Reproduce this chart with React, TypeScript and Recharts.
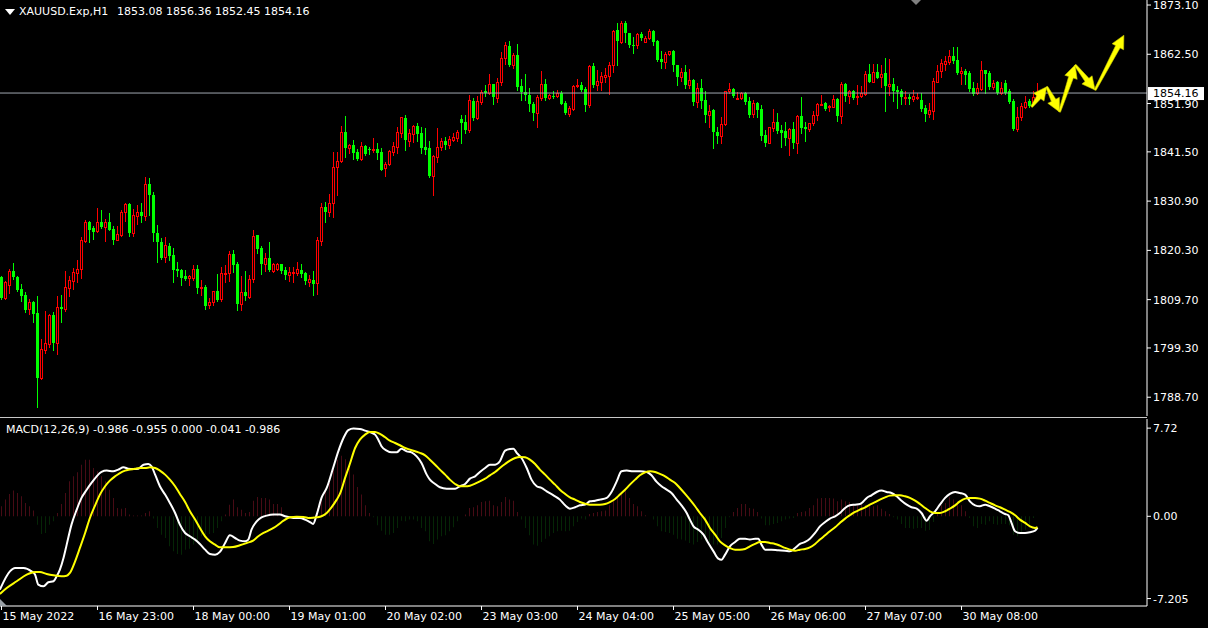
import React from 'react'
import { ComposedChart, Bar, Line, XAxis, YAxis, ReferenceLine, Cell } from 'recharts'

// XAUUSD H1 candles, one entry per bar (oldest first)
const opens = [
  1814.5, 1810.1, 1812.9, 1815.9, 1814.6, 1812.0, 1810.7, 1807.6, 1809.2, 1806.8, 1792.9, 1798.9, 1800.2, 1806.5, 1800.4, 1808.1, 1807.7, 1812.3, 1813.8, 1815.5,
  1816.2, 1822.3, 1826.4, 1825.1, 1824.4, 1826.3, 1825.4, 1826.3, 1824.9, 1822.6, 1823.7, 1828.5, 1830.3, 1824.0, 1827.8, 1828.6, 1827.6, 1834.6, 1832.2, 1824.0,
  1822.1, 1818.8, 1821.3, 1819.3, 1816.3, 1816.1, 1814.7, 1814.3, 1814.4, 1816.3, 1812.1, 1812.5, 1808.5, 1809.1, 1811.5, 1809.8, 1815.3, 1815.4, 1819.5, 1817.4,
  1808.8, 1811.3, 1810.3, 1814.1, 1823.6, 1820.9, 1817.4, 1818.7, 1815.9, 1816.3, 1817.3, 1816.1, 1814.9, 1815.4, 1815.5, 1816.1, 1815.4, 1813.4, 1813.9, 1813.2,
  1822.4, 1829.6, 1828.6, 1830.4, 1838.2, 1839.5, 1845.7, 1842.4, 1843.0, 1841.5, 1839.9, 1842.8, 1842.2, 1842.0, 1842.1, 1841.5, 1838.1, 1838.8, 1841.5, 1842.6,
  1845.6, 1848.8, 1843.9, 1845.3, 1847.1, 1845.5, 1842.6, 1842.3, 1836.2, 1840.5, 1842.5, 1843.8, 1843.0, 1844.1, 1844.4, 1848.6, 1848.0, 1846.2, 1852.5, 1848.7,
  1852.3, 1854.5, 1854.1, 1856.1, 1853.0, 1856.5, 1861.6, 1864.3, 1860.2, 1862.3, 1855.7, 1854.4, 1853.7, 1851.9, 1849.9, 1853.0, 1856.2, 1853.0, 1853.5, 1853.5,
  1854.1, 1852.1, 1849.6, 1850.7, 1855.7, 1855.9, 1855.0, 1851.5, 1860.0, 1855.9, 1856.6, 1857.7, 1857.9, 1860.1, 1867.7, 1865.2, 1869.2, 1867.0, 1864.5, 1864.5,
  1866.8, 1865.2, 1865.9, 1867.5, 1865.4, 1861.4, 1860.9, 1862.5, 1863.2, 1860.2, 1857.7, 1858.6, 1855.9, 1857.0, 1852.2, 1855.2, 1852.7, 1849.4, 1850.5, 1845.7,
  1845.0, 1847.6, 1854.5, 1855.0, 1853.0, 1853.0, 1854.1, 1852.5, 1849.6, 1852.1, 1850.7, 1845.1, 1843.5, 1846.7, 1847.9, 1846.1, 1845.9, 1844.4, 1846.4, 1843.3,
  1849.2, 1846.8, 1846.4, 1847.7, 1849.4, 1851.7, 1852.1, 1851.1, 1851.2, 1852.8, 1849.2, 1856.1, 1853.5, 1854.6, 1853.2, 1853.5, 1853.9, 1858.3, 1856.6, 1858.6,
  1857.7, 1858.5, 1855.7, 1856.0, 1854.8, 1854.6, 1853.2, 1853.4, 1852.9, 1853.2, 1852.7, 1851.0, 1849.7, 1850.4, 1856.6, 1858.8, 1860.4, 1860.9, 1862.1, 1861.3,
  1858.4, 1859.0, 1858.4, 1855.3, 1854.1, 1855.0, 1859.1, 1858.5, 1855.4, 1856.6, 1854.1, 1856.4, 1854.5, 1852.5, 1846.4, 1849.0, 1851.2, 1852.5, 1852.2, 1853.08,
]
const highs = [
  1814.8, 1813.7, 1816.4, 1817.6, 1814.7, 1813.0, 1811.4, 1809.8, 1809.3, 1810.4, 1801.2, 1807.3, 1806.6, 1807.1, 1810.5, 1810.7, 1815.9, 1814.7, 1816.6, 1818.2,
  1823.2, 1826.9, 1826.6, 1825.6, 1829.4, 1829.0, 1827.1, 1828.4, 1825.6, 1825.6, 1829.0, 1830.4, 1830.4, 1829.1, 1830.0, 1830.5, 1836.1, 1835.8, 1832.9, 1825.8,
  1822.9, 1823.1, 1821.8, 1820.8, 1817.7, 1816.4, 1816.0, 1815.0, 1817.2, 1817.2, 1813.9, 1812.9, 1810.0, 1811.6, 1815.2, 1816.7, 1817.2, 1820.2, 1820.4, 1817.7,
  1814.7, 1815.9, 1815.0, 1824.7, 1823.7, 1821.3, 1819.7, 1822.1, 1817.5, 1817.6, 1817.4, 1816.8, 1816.8, 1816.7, 1817.8, 1817.4, 1815.6, 1815.0, 1815.9, 1823.1,
  1830.5, 1830.7, 1832.4, 1841.5, 1841.5, 1847.1, 1849.2, 1843.2, 1844.0, 1842.1, 1843.7, 1843.0, 1842.5, 1844.4, 1843.4, 1842.3, 1839.4, 1841.8, 1843.6, 1846.8,
  1849.1, 1849.4, 1846.4, 1847.3, 1847.8, 1846.8, 1846.6, 1843.8, 1840.9, 1846.6, 1844.5, 1844.6, 1845.0, 1845.5, 1846.2, 1849.4, 1849.4, 1853.7, 1853.0, 1853.5,
  1854.9, 1855.9, 1858.3, 1856.2, 1857.3, 1863.0, 1865.2, 1865.4, 1862.7, 1864.7, 1857.1, 1858.3, 1855.2, 1852.3, 1853.7, 1858.8, 1857.1, 1853.9, 1854.6, 1854.9,
  1854.5, 1852.4, 1851.4, 1855.9, 1857.1, 1856.6, 1855.5, 1860.2, 1860.7, 1859.1, 1858.6, 1859.6, 1860.9, 1867.7, 1869.2, 1869.7, 1869.7, 1867.1, 1866.3, 1867.0,
  1867.4, 1866.4, 1867.9, 1867.7, 1865.6, 1863.2, 1862.9, 1863.3, 1863.4, 1860.3, 1859.5, 1860.2, 1859.3, 1857.1, 1856.3, 1857.2, 1854.5, 1851.5, 1850.7, 1846.9,
  1849.1, 1854.6, 1856.3, 1855.2, 1854.3, 1854.3, 1854.3, 1853.2, 1852.7, 1852.3, 1851.6, 1846.2, 1846.9, 1850.7, 1849.8, 1847.3, 1848.0, 1846.6, 1848.0, 1849.4,
  1853.2, 1848.0, 1847.8, 1850.2, 1852.1, 1853.7, 1852.3, 1851.5, 1853.7, 1853.0, 1856.5, 1856.3, 1854.9, 1854.9, 1855.9, 1855.7, 1858.8, 1860.4, 1860.4, 1860.4,
  1860.2, 1861.8, 1861.5, 1857.5, 1855.7, 1855.0, 1854.5, 1853.9, 1854.8, 1854.2, 1854.1, 1851.6, 1852.0, 1857.5, 1860.3, 1861.4, 1862.1, 1863.4, 1864.0, 1864.0,
  1859.8, 1859.3, 1858.9, 1856.6, 1856.3, 1861.0, 1859.2, 1858.9, 1857.0, 1856.7, 1856.6, 1857.0, 1855.0, 1852.8, 1851.2, 1852.1, 1853.5, 1852.8, 1854.5, 1856.36,
]
const lows = [
  1809.8, 1809.8, 1811.2, 1814.2, 1811.6, 1809.4, 1807.1, 1806.6, 1804.8, 1786.7, 1792.6, 1798.3, 1799.5, 1798.9, 1798.0, 1804.8, 1807.3, 1810.4, 1811.9, 1813.5,
  1814.4, 1822.2, 1822.2, 1822.8, 1824.3, 1825.1, 1822.4, 1824.6, 1821.7, 1822.5, 1823.4, 1826.7, 1823.3, 1823.5, 1825.9, 1826.5, 1826.9, 1827.9, 1822.4, 1817.9,
  1818.4, 1817.9, 1818.2, 1813.6, 1814.8, 1812.9, 1813.9, 1812.9, 1813.9, 1811.1, 1810.7, 1807.6, 1808.0, 1808.6, 1809.5, 1809.5, 1813.6, 1813.8, 1815.7, 1807.5,
  1807.4, 1809.6, 1810.0, 1813.4, 1819.7, 1815.2, 1815.9, 1815.9, 1815.7, 1816.1, 1815.4, 1814.2, 1813.8, 1813.6, 1815.0, 1814.5, 1813.1, 1812.7, 1810.7, 1810.9,
  1821.4, 1826.3, 1827.8, 1827.4, 1832.3, 1839.3, 1840.3, 1841.3, 1840.0, 1839.7, 1839.8, 1840.8, 1841.0, 1841.5, 1839.9, 1837.6, 1836.4, 1838.7, 1840.9, 1841.3,
  1844.6, 1841.8, 1842.8, 1843.7, 1843.9, 1841.2, 1841.0, 1836.0, 1832.2, 1839.4, 1841.8, 1842.2, 1842.4, 1843.9, 1843.9, 1843.5, 1845.5, 1845.7, 1848.4, 1848.5,
  1851.9, 1853.6, 1854.0, 1851.8, 1852.3, 1855.9, 1860.5, 1860.0, 1859.6, 1854.9, 1852.7, 1852.7, 1850.3, 1848.4, 1846.9, 1852.7, 1852.7, 1852.9, 1853.0, 1853.4,
  1851.7, 1849.6, 1849.2, 1850.5, 1855.5, 1854.5, 1850.3, 1851.2, 1855.5, 1854.8, 1854.8, 1856.6, 1854.0, 1858.6, 1860.2, 1864.9, 1865.2, 1864.0, 1862.7, 1863.8,
  1865.6, 1865.1, 1865.8, 1864.6, 1861.1, 1859.6, 1859.6, 1862.3, 1858.8, 1855.8, 1856.8, 1855.2, 1855.2, 1851.5, 1851.2, 1851.0, 1847.9, 1846.9, 1842.3, 1843.4,
  1843.4, 1847.3, 1854.1, 1853.4, 1852.8, 1852.8, 1851.9, 1848.9, 1849.1, 1848.9, 1844.1, 1842.8, 1843.3, 1845.9, 1845.6, 1842.6, 1843.0, 1840.8, 1842.3, 1841.2,
  1845.5, 1843.9, 1845.9, 1847.3, 1848.4, 1851.6, 1850.5, 1850.2, 1851.1, 1848.2, 1847.8, 1852.5, 1852.1, 1852.8, 1851.9, 1853.4, 1853.7, 1856.5, 1856.5, 1857.3,
  1855.5, 1850.4, 1853.7, 1852.5, 1850.9, 1851.9, 1851.9, 1851.8, 1852.5, 1852.8, 1850.4, 1848.2, 1848.9, 1848.6, 1856.5, 1857.7, 1859.1, 1860.4, 1860.7, 1858.3,
  1856.1, 1856.2, 1854.5, 1853.7, 1854.0, 1854.8, 1854.1, 1855.0, 1855.0, 1854.0, 1854.0, 1854.0, 1852.1, 1846.1, 1845.9, 1848.4, 1850.9, 1851.2, 1851.6, 1852.45,
]
const closes = [
  1810.0, 1813.4, 1815.9, 1814.5, 1811.8, 1810.5, 1807.5, 1809.2, 1806.6, 1792.9, 1799.0, 1800.4, 1806.4, 1800.4, 1808.1, 1807.7, 1812.4, 1813.9, 1815.7, 1816.3,
  1822.5, 1826.4, 1824.7, 1824.3, 1826.3, 1825.3, 1826.3, 1824.7, 1822.6, 1823.8, 1828.5, 1830.3, 1824.1, 1827.9, 1828.6, 1827.6, 1834.6, 1832.2, 1824.0, 1822.0,
  1818.6, 1821.4, 1819.1, 1816.1, 1815.9, 1814.4, 1814.2, 1814.7, 1816.3, 1812.1, 1812.5, 1808.4, 1809.2, 1811.5, 1809.6, 1815.4, 1815.5, 1819.5, 1817.2, 1808.8,
  1811.3, 1810.4, 1814.2, 1823.4, 1820.6, 1817.4, 1818.7, 1816.1, 1817.3, 1817.3, 1815.9, 1815.0, 1815.7, 1815.7, 1816.2, 1815.2, 1813.7, 1814.1, 1813.1, 1822.5,
  1829.6, 1828.6, 1830.6, 1838.2, 1839.5, 1845.7, 1842.4, 1843.0, 1841.3, 1839.9, 1842.7, 1841.0, 1841.9, 1842.2, 1841.3, 1837.7, 1838.9, 1841.7, 1842.8, 1845.8,
  1848.9, 1844.1, 1845.5, 1847.1, 1845.3, 1842.3, 1842.0, 1836.2, 1840.6, 1842.5, 1843.8, 1843.0, 1844.3, 1844.8, 1845.8, 1847.8, 1846.2, 1852.7, 1848.7, 1852.4,
  1854.3, 1854.1, 1856.1, 1853.2, 1856.5, 1861.6, 1864.5, 1860.2, 1862.3, 1855.5, 1854.3, 1853.7, 1851.8, 1849.9, 1853.4, 1856.0, 1853.0, 1853.7, 1853.2, 1854.1,
  1851.8, 1849.8, 1850.9, 1855.7, 1855.9, 1854.8, 1851.5, 1860.0, 1855.9, 1856.8, 1857.8, 1858.0, 1860.2, 1867.5, 1865.4, 1869.2, 1867.0, 1864.4, 1864.3, 1866.8,
  1865.9, 1866.1, 1867.5, 1865.1, 1861.3, 1860.8, 1862.5, 1863.2, 1860.1, 1857.7, 1858.6, 1855.8, 1857.0, 1852.2, 1855.2, 1852.5, 1849.4, 1850.4, 1845.7, 1845.0,
  1847.6, 1854.5, 1855.0, 1853.6, 1853.1, 1854.1, 1852.3, 1849.4, 1852.1, 1850.5, 1844.9, 1843.5, 1846.8, 1847.9, 1845.9, 1845.6, 1844.4, 1846.4, 1843.3, 1849.2,
  1846.6, 1846.4, 1847.7, 1849.4, 1851.9, 1851.9, 1850.7, 1851.4, 1852.8, 1849.2, 1856.1, 1853.5, 1854.6, 1853.0, 1853.5, 1854.2, 1858.3, 1856.6, 1858.6, 1857.5,
  1858.3, 1855.7, 1856.2, 1854.7, 1854.3, 1853.2, 1853.4, 1852.9, 1853.5, 1853.4, 1850.7, 1849.7, 1850.5, 1856.7, 1858.9, 1860.7, 1861.1, 1862.1, 1861.0, 1858.4,
  1858.9, 1858.0, 1855.0, 1854.0, 1855.3, 1859.1, 1858.3, 1855.4, 1856.4, 1854.1, 1855.3, 1854.2, 1852.3, 1846.4, 1849.0, 1851.4, 1852.3, 1851.4, 1853.2, 1854.16,
]

// MACD histogram, one value per bar
const histogram = [
  0.88, 1.46, 1.96, 2.25, 2.04, 1.75, 1.17, 0.88, 0.5, -0.73, -1.55, -1.46, -0.73, -0.44, 0.29, 1.08, 2.04, 3.06, 3.5, 3.85,
  4.52, 4.96, 4.96, 4.23, 3.94, 3.5, 3.06, 2.33, 1.61, 0.73, 0.67, 0.73, 0.15, 0.06, 0.06, 0.06, 0.29, 0.44, -0.2, -1.02,
  -1.61, -1.9, -2.63, -3.07, -3.3, -3.36, -2.92, -2.84, -2.48, -2.19, -1.75, -1.61, -1.55, -1.46, -1.02, -0.44, 0.15, 1.02, 1.46, 0.79,
  0.58, 0.29, 0.38, 1.37, 1.69, 1.61, 1.61, 1.46, 1.08, 1.08, 0.79, -0.15, -0.2, -0.15, -0.15, -0.09, -0.15, -0.2, -0.15, 0.73,
  1.61, 2.33, 2.92, 4.09, 4.96, 5.3, 5.0, 4.4, 3.65, 2.57, 1.9, 0.96, 0.29, -0.09, -0.79, -1.26, -1.61, -1.61, -1.46, -1.02,
  -0.38, -0.44, -0.29, -0.29, -0.44, -1.02, -1.31, -2.19, -2.42, -2.04, -1.75, -1.66, -1.31, -0.96, -0.44, 0.0, 0.15, 0.73, 0.79, 0.96,
  1.25, 1.31, 1.37, 0.96, 0.88, 1.25, 1.69, 1.46, 1.37, 0.38, -0.29, -1.02, -1.66, -2.48, -2.57, -2.25, -1.96, -1.75, -1.46, -1.31,
  -1.26, -1.31, -1.26, -0.88, -0.5, -0.2, -0.29, 0.2, 0.29, 0.38, 0.44, 0.5, 0.96, 1.37, 1.75, 1.96, 2.19, 1.61, 1.08, 0.88,
  0.44, 0.09, 0.0, -0.29, -0.88, -1.31, -1.37, -1.46, -1.61, -1.96, -2.04, -2.13, -2.34, -2.48, -2.25, -2.0, -2.19, -2.25, -2.48, -2.48,
  -1.9, -1.02, -0.09, 0.38, 0.73, 1.08, 1.08, 0.73, 0.67, 0.38, -0.2, -0.79, -0.79, -0.67, -0.58, -0.44, -0.29, -0.2, -0.15, 0.29,
  0.38, 0.44, 0.73, 0.96, 1.55, 1.61, 1.61, 1.61, 1.55, 1.31, 1.46, 1.31, 1.25, 1.02, 0.96, 1.17, 0.96, 0.96, 0.88, 0.96,
  0.67, 0.44, 0.2, -0.09, -0.29, -0.67, -1.02, -1.02, -1.08, -1.02, -1.02, -1.26, -1.2, -0.5, 0.2, 0.96, 1.17, 1.66, 1.46, 1.31,
  0.96, 0.44, -0.15, -0.88, -1.02, -0.67, -0.73, -0.44, -0.67, -0.73, -0.67, -0.67, -0.79, -1.61, -1.75, -1.46, -1.17, -0.73, -0.15, 0.0,
]

// white MACD line, sampled at bar positions
const macdBars = [
  -0.4, 2.1, 3.4, 5.5, 7.5, 8.4, 9.2, 10.5, 11.7, 13.0, 13.8, 14.6, 15.5, 16.3, 17.5, 18.8, 20.0, 21.3, 22.5, 23.8,
  25.0, 26.3, 27.9, 29.2, 30.5, 31.7, 33.0, 34.2, 35.5, 36.7, 37.5, 38.4, 39.6, 40.9, 42.1, 43.4, 44.6, 45.9, 47.1, 48.4,
  49.6, 50.9, 52.1, 53.4, 54.6, 55.9, 57.1, 58.4, 59.6, 60.9, 61.7, 62.5, 63.8, 65.0, 66.3, 68.0, 69.6, 70.9, 72.1, 73.4,
  74.6, 75.9, 77.1, 77.9, 78.8, 80.0, 81.3, 82.9, 84.2, 85.5, 86.7, 88.0, 89.6, 90.9, 92.1, 93.4, 94.2, 95.0, 96.3, 97.5,
  98.8, 100.0, 101.3, 102.5, 103.8, 105.0, 106.3, 107.1, 108.4, 109.6, 111.3, 113.4, 114.6, 115.9, 117.1, 118.4, 119.6, 120.9, 122.1, 123.4,
  124.6, 125.9, 127.1, 128.0, 128.8, 130.0, 131.3, 132.5, 133.8, 135.0, 136.3, 138.0, 139.6, 140.9, 142.1, 143.4, 144.6, 145.9, 147.1, 148.4,
  149.6, 151.3, 152.5, 153.8, 155.0, 156.3, 157.9, 159.6, 161.3, 162.5, 163.8, 165.0, 166.3, 167.5, 168.8, 170.0, 171.3, 172.1, 173.0, 174.2,
  175.5, 176.7, 178.0, 179.2, 180.0, 180.9, 182.1, 183.4, 184.6, 185.9, 187.1, 188.4, 189.2, 190.0, 190.9, 192.5, 194.2, 195.9, 197.1, 198.4,
  199.6, 200.9, 202.1, 203.4, 204.6, 205.9, 207.1, 208.4, 209.6, 210.9, 212.1, 213.4, 214.6, 215.5, 216.3, 217.5, 218.8, 220.0, 221.3, 222.5,
  223.8, 225.0, 226.3, 227.5, 228.8, 230.0, 231.3, 232.1, 233.4, 234.6, 235.9, 237.1, 238.4, 239.6, 240.9, 242.1, 243.4, 244.6, 245.9, 247.1,
  248.4, 249.6, 250.9, 251.7, 252.5, 253.4, 254.6, 255.9, 257.1, 258.4, 259.0,
]
const macdValues = [
  -6.42, -4.82, -4.52, -4.52, -4.82, -5.11, -5.98, -6.13, -5.78, -5.69, -5.25, -4.67, -3.65, -2.48, -0.73, 0.58, 1.61, 2.33, 2.92, 3.5,
  3.88, 4.0, 3.94, 4.09, 4.29, 4.17, 4.14, 4.17, 4.52, 4.58, 4.38, 3.65, 2.63, 1.9, 1.17, 0.29, -0.73, -1.46, -1.75, -2.04,
  -2.42, -2.92, -3.3, -3.36, -3.12, -2.34, -1.66, -1.9, -2.13, -2.19, -2.04, -1.17, -0.44, -0.09, 0.06, 0.15, 0.15, 0.0, -0.09, -0.15,
  -0.15, -0.29, -0.5, -0.67, 0.15, 1.61, 2.48, 4.23, 5.69, 6.86, 7.55, 7.68, 7.65, 7.5, 7.38, 7.15, 6.71, 6.13, 5.75, 5.6,
  5.6, 5.92, 5.69, 5.6, 5.25, 4.67, 3.65, 3.21, 2.83, 2.54, 2.42, 2.42, 2.63, 2.83, 3.3, 3.5, 3.88, 4.23, 4.52, 4.52,
  4.82, 5.75, 5.9, 5.92, 5.55, 5.11, 4.23, 3.21, 2.63, 2.48, 2.19, 1.84, 1.46, 0.96, 0.67, 0.79, 0.96, 1.02, 1.31, 1.37,
  1.46, 1.61, 2.13, 3.06, 3.94, 4.0, 3.94, 3.94, 3.88, 3.59, 3.01, 2.63, 2.33, 2.04, 1.46, 0.96, 0.29, -0.29, -0.88, -1.17,
  -1.61, -2.34, -3.07, -3.71, -3.8, -3.36, -2.63, -2.25, -1.96, -1.96, -2.04, -1.96, -1.96, -2.48, -2.92, -2.92, -2.98, -3.01, -3.07, -2.77,
  -2.42, -2.25, -1.96, -1.46, -0.88, -0.5, -0.2, 0.0, 0.29, 0.73, 0.96, 1.02, 1.08, 1.31, 1.61, 1.84, 2.13, 2.25, 2.13, 2.04,
  1.75, 1.37, 1.02, 0.79, 0.67, 0.29, -0.38, 0.0, 0.44, 1.02, 1.61, 1.96, 2.13, 2.04, 1.9, 1.31, 0.96, 0.88, 1.02, 0.88,
  0.67, 0.44, 0.2, 0.09, -0.58, -1.31, -1.46, -1.46, -1.4, -1.26, -0.99,
]

// yellow signal line
const signalBars = [
  -0.4, 1.3, 3.8, 6.3, 8.4, 9.6, 11.3, 13.0, 15.0, 16.3, 17.1, 18.4, 19.6, 20.9, 22.1, 23.4, 24.6, 25.9, 27.1, 28.4,
  29.6, 30.9, 32.1, 33.4, 34.6, 35.9, 37.1, 38.4, 39.6, 40.9, 42.1, 43.4, 44.6, 45.9, 47.1, 48.4, 49.6, 50.9, 52.1, 53.4,
  54.6, 56.3, 57.9, 59.6, 61.3, 62.9, 64.2, 65.5, 66.7, 68.0, 69.2, 70.5, 72.1, 73.8, 75.5, 77.1, 78.8, 80.0, 81.3, 82.5,
  83.8, 84.6, 85.9, 87.1, 88.4, 89.6, 90.9, 92.1, 93.4, 94.6, 95.9, 97.1, 98.4, 99.6, 100.9, 102.1, 103.4, 104.6, 105.9, 107.1,
  108.4, 109.6, 110.9, 112.1, 113.4, 114.6, 115.9, 117.1, 118.4, 119.6, 120.9, 122.1, 123.4, 124.6, 125.9, 127.1, 128.4, 129.6, 130.9, 132.1,
  133.4, 134.6, 135.9, 137.1, 138.4, 139.6, 140.9, 142.1, 143.4, 144.6, 145.9, 147.1, 148.4, 149.6, 150.9, 152.1, 153.4, 154.6, 155.9, 157.1,
  158.4, 159.6, 160.9, 162.1, 163.4, 164.6, 165.9, 167.1, 168.4, 169.6, 170.9, 172.1, 173.4, 174.6, 175.9, 177.1, 178.4, 179.6, 180.9, 182.1,
  183.4, 184.6, 185.9, 187.1, 188.4, 189.6, 190.9, 192.1, 193.4, 194.6, 195.9, 197.1, 198.4, 199.6, 200.9, 202.1, 203.4, 204.6, 205.9, 207.1,
  208.4, 209.6, 210.9, 212.1, 213.4, 214.6, 215.9, 217.1, 218.4, 219.6, 220.9, 222.1, 223.4, 224.6, 225.9, 227.1, 228.4, 229.6, 230.9, 232.1,
  233.4, 234.6, 235.9, 237.1, 238.4, 239.6, 240.9, 242.1, 243.4, 244.6, 245.9, 247.1, 248.4, 249.6, 250.9, 252.1, 253.4, 254.6, 255.9, 257.1,
  258.4, 259.0,
]
const signalValues = [
  -6.8, -6.28, -5.69, -5.11, -4.88, -4.88, -5.05, -5.17, -5.26, -5.2, -4.96, -3.94, -2.77, -1.46, -0.15, 0.96, 1.9, 2.63, 3.12, 3.5,
  3.79, 4.0, 4.09, 4.17, 4.23, 4.23, 4.29, 4.23, 4.0, 3.65, 3.21, 2.63, 1.96, 1.25, 0.44, -0.29, -1.02, -1.75, -2.19, -2.48,
  -2.72, -2.72, -2.69, -2.54, -2.34, -2.13, -1.75, -1.46, -1.26, -1.02, -0.73, -0.38, -0.09, -0.03, -0.06, -0.15, -0.09, 0.0, 0.29, 0.79,
  1.46, 1.96, 3.36, 4.6, 5.98, 6.71, 7.15, 7.38, 7.38, 7.21, 6.92, 6.62, 6.42, 6.22, 5.98, 5.84, 5.69, 5.55, 5.34, 4.96,
  4.52, 4.09, 3.65, 3.21, 2.83, 2.63, 2.63, 2.68, 2.86, 3.06, 3.3, 3.59, 3.88, 4.23, 4.58, 4.87, 5.11, 5.2, 5.17, 4.96,
  4.58, 4.09, 3.65, 3.21, 2.77, 2.33, 1.96, 1.66, 1.46, 1.25, 1.11, 1.02, 1.02, 1.02, 1.08, 1.25, 1.52, 1.9, 2.33, 2.77,
  3.21, 3.59, 3.85, 3.94, 3.88, 3.71, 3.5, 3.21, 2.92, 2.48, 1.96, 1.46, 0.88, 0.29, -0.29, -1.02, -1.61, -2.19, -2.54, -2.77,
  -2.92, -2.92, -2.86, -2.63, -2.42, -2.25, -2.25, -2.34, -2.42, -2.57, -2.77, -2.92, -3.01, -2.92, -2.86, -2.72, -2.42, -2.04, -1.66, -1.31,
  -0.96, -0.58, -0.2, 0.09, 0.38, 0.58, 0.79, 1.02, 1.25, 1.46, 1.66, 1.81, 1.84, 1.84, 1.75, 1.61, 1.37, 1.08, 0.73, 0.44,
  0.29, 0.29, 0.44, 0.67, 0.96, 1.31, 1.55, 1.61, 1.61, 1.55, 1.37, 1.17, 0.96, 0.79, 0.58, 0.38, 0.09, -0.29, -0.58, -0.88,
  -1.02, -0.96,
]

const priceTicks = [1873.1, 1862.5, 1851.9, 1841.5, 1830.9, 1820.3, 1809.7, 1799.3, 1788.7]
const macdTicks = [7.72, 0, -7.205]
const macdTickLabels = ['7.72', '0.00', '-7.205']
const timeTickBars = [0, 24, 48, 72, 96, 120, 144, 168, 192, 216, 240]
const timeLabels = [
  '15 May 2022', '16 May 23:00', '18 May 00:00', '19 May 01:00', '20 May 02:00', '23 May 03:00',
  '24 May 04:00', '25 May 05:00', '26 May 06:00', '27 May 07:00', '30 May 08:00',
]

// hand drawn forecast arrows (bar position, price)
const arrowBars = [257.5, 261.3, 264.5, 268.4, 273.4, 280.6]
const arrowPrices = [1851.2, 1855.5, 1850.1, 1860.2, 1854.8, 1866.6]

const FONT = '"DejaVu Sans", Verdana, sans-serif'
const xDomain: [number, number] = [-0.375, 286.375]

const candles = opens.map((o, i) => ({ x: i, o, h: highs[i], l: lows[i], c: closes[i] }))
const histData = histogram.map((v, i) => ({ x: i, v }))
const macdLine = macdBars.map((b, i) => ({ x: b, v: macdValues[i] }))
const signalLine = signalBars.map((b, i) => ({ x: b, v: signalValues[i] }))
const lastPrice = closes[closes.length - 1]

const Candle = (props: any) => {
  const { x, y, width, height, payload } = props
  if (!payload || height == null) return null
  const { o, h, l, c } = payload
  const cx = Math.floor(x + width / 2) + 0.5
  const k = Math.abs(height) / (h - l)
  const top = Math.min(y, y + height)
  const yO = top + (h - o) * k
  const yC = top + (h - c) * k
  const rH = Math.round(top)
  const rL = Math.round(top + Math.abs(height))
  const bTop = Math.round(Math.min(yO, yC))
  const bBot = Math.round(Math.max(yO, yC))
  if (c >= o) {
    const col = '#ff0000'
    return (
      <g>
        <line x1={cx} x2={cx} y1={rH} y2={bTop} stroke={col} strokeWidth={1} />
        <line x1={cx} x2={cx} y1={bBot} y2={rL + 1} stroke={col} strokeWidth={1} />
        {bBot - bTop >= 2 ? (
          <rect x={cx - 1} y={bTop + 0.5} width={2} height={bBot - bTop} fill="none" stroke={col} strokeWidth={1} />
        ) : (
          <rect x={cx - 1.5} y={bTop} width={3} height={Math.max(bBot - bTop, 1) + 1} fill={col} />
        )}
      </g>
    )
  }
  const col = '#00ff00'
  return (
    <g>
      <line x1={cx} x2={cx} y1={rH} y2={rL + 1} stroke={col} strokeWidth={1} />
      <rect x={cx - 1.5} y={bTop} width={3} height={Math.max(bBot - bTop, 1)} fill={col} />
    </g>
  )
}

const PriceTick = (props: any) => {
  const { x, y, payload } = props
  return (
    <text x={x} y={y} dy={4} fill="#fff" fontSize={11} fontFamily={FONT} textAnchor="start">
      {Number(payload.value).toFixed(2)}
    </text>
  )
}

const MacdTick = (props: any) => {
  const { x, y, payload } = props
  const idx = macdTicks.indexOf(payload.value)
  return (
    <text x={x} y={y} dy={4} fill="#fff" fontSize={11} fontFamily={FONT} textAnchor="start">
      {idx >= 0 ? macdTickLabels[idx] : payload.value}
    </text>
  )
}

const TimeTick = (props: any) => {
  const { x, y, payload } = props
  const idx = timeTickBars.indexOf(payload.value)
  return (
    <text x={x + 1} y={y} dy={10} fill="#fff" fontSize={11} fontFamily={FONT} textAnchor="start">
      {idx >= 0 ? timeLabels[idx] : ''}
    </text>
  )
}

const CurrentPriceLabel = (props: any) => {
  const { viewBox } = props
  if (!viewBox) return null
  const { x, y, width } = viewBox
  return (
    <g>
      <rect x={x + width + 1} y={y - 6} width={56} height={13} fill="#ffffff" />
      <text x={x + width + 6} y={y + 4} fill="#000" fontSize={11} fontFamily={FONT}>
        {lastPrice.toFixed(2)}
      </text>
    </g>
  )
}

const ArrowShape = (props: any) => {
  const { x1, y1, x2, y2 } = props
  if ([x1, y1, x2, y2].some((v) => v == null || isNaN(v))) return null
  const dx = x2 - x1
  const dy = y2 - y1
  const len = Math.sqrt(dx * dx + dy * dy) || 1
  const ux = dx / len
  const uy = dy / len
  const nx = -uy
  const ny = ux
  const head = 13
  const bx = x2 - ux * head
  const by = y2 - uy * head
  const pts = [
    [x1 + nx * 1, y1 + ny * 1],
    [bx + nx * 2.5, by + ny * 2.5],
    [bx + nx * 6.5, by + ny * 6.5],
    [x2, y2],
    [bx - nx * 6.5, by - ny * 6.5],
    [bx - nx * 2.5, by - ny * 2.5],
    [x1 - nx * 1, y1 - ny * 1],
  ]
  return <polygon points={pts.map((p) => p.join(',')).join(' ')} fill="#ffff00" stroke="#c8c800" strokeWidth={0.6} />
}

export default function App() {
  return (
    <div
      style={{
        position: 'absolute',
        left: 0,
        top: 0,
        width: 1208,
        height: 628,
        background: '#000',
        overflow: 'hidden',
        fontFamily: FONT,
      }}
    >
      <div style={{ position: 'absolute', left: 0, top: 0 }}>
        <ComposedChart width={1208} height={416} data={candles} margin={{ top: 0, right: 0, bottom: 0, left: 0 }}>
          <XAxis dataKey="x" type="number" domain={xDomain} allowDataOverflow hide />
          <YAxis
            orientation="right"
            width={61}
            domain={[1784.66, 1874.18]}
            allowDataOverflow
            ticks={priceTicks}
            interval={0}
            tick={<PriceTick />}
            tickSize={4}
            tickMargin={2}
            tickLine={{ stroke: '#ffffff' }}
            axisLine={{ stroke: '#ffffff' }}
          />
          <ReferenceLine y={lastPrice} stroke="#a0a8b0" strokeWidth={1} label={<CurrentPriceLabel />} />
          <Bar dataKey={(d: any) => [d.l, d.h]} barSize={3} shape={(p: any) => <Candle {...p} />} isAnimationActive={false} />
          {arrowBars.slice(1).map((b, k) => (
            <ReferenceLine
              key={k}
              segment={[
                { x: arrowBars[k], y: arrowPrices[k] },
                { x: b, y: arrowPrices[k + 1] },
              ]}
              ifOverflow="visible"
              shape={(p: any) => <ArrowShape {...p} />}
            />
          ))}
        </ComposedChart>
      </div>

      <div style={{ position: 'absolute', left: 0, top: 419 }}>
        <ComposedChart width={1208} height={209} data={histData} margin={{ top: 0, right: 0, bottom: 0, left: 0 }}>
          <XAxis
            dataKey="x"
            type="number"
            domain={xDomain}
            allowDataOverflow
            ticks={timeTickBars}
            interval={0}
            height={22}
            tick={<TimeTick />}
            tickSize={4}
            tickMargin={0}
            tickLine={{ stroke: '#ffffff' }}
            axisLine={{ stroke: '#ffffff' }}
          />
          <YAxis
            orientation="right"
            width={61}
            domain={[-7.855, 8.52]}
            allowDataOverflow
            ticks={macdTicks}
            interval={0}
            tick={<MacdTick />}
            tickSize={4}
            tickMargin={2}
            tickLine={{ stroke: '#ffffff' }}
            axisLine={{ stroke: '#ffffff' }}
          />
          <Bar dataKey="v" barSize={1} isAnimationActive={false}>
            {histData.map((d, i) => (
              <Cell key={i} fill={d.v >= 0 ? '#c8203c' : '#0f6a12'} />
            ))}
          </Bar>
          <Line data={macdLine} dataKey="v" type="monotone" stroke="#ffffff" strokeWidth={2} dot={false} isAnimationActive={false} />
          <Line data={signalLine} dataKey="v" type="monotone" stroke="#ffff00" strokeWidth={2} dot={false} isAnimationActive={false} />
        </ComposedChart>
      </div>

      <svg width={1208} height={628} style={{ position: 'absolute', left: 0, top: 0, pointerEvents: 'none' }}>
        <line x1={0} x2={1147} y1={417.5} y2={417.5} stroke="#c8c8c8" strokeWidth={1} />
        <polygon points="5,9 15,9 10,15" fill="#ffffff" />
        <text x={19} y={15} fill="#fff" fontSize={11} fontFamily={FONT}>
          XAUUSD.Exp,H1
        </text>
        <text x={117} y={15} fill="#fff" fontSize={11} fontFamily={FONT}>
          {`${opens[opens.length - 1].toFixed(2)} ${highs[highs.length - 1].toFixed(2)} ${lows[lows.length - 1].toFixed(2)} ${lastPrice.toFixed(2)}`}
        </text>
        <text x={6} y={433} fill="#fff" fontSize={11} fontFamily={FONT}>
          MACD(12,26,9) -0.986 -0.955 0.000 -0.041 -0.986
        </text>
        <polygon points="911,0 921,0 916,5" fill="#808080" />
        <polygon points="0,599 7,606 0,606" fill="#9aa0a6" />
      </svg>
    </div>
  )
}
